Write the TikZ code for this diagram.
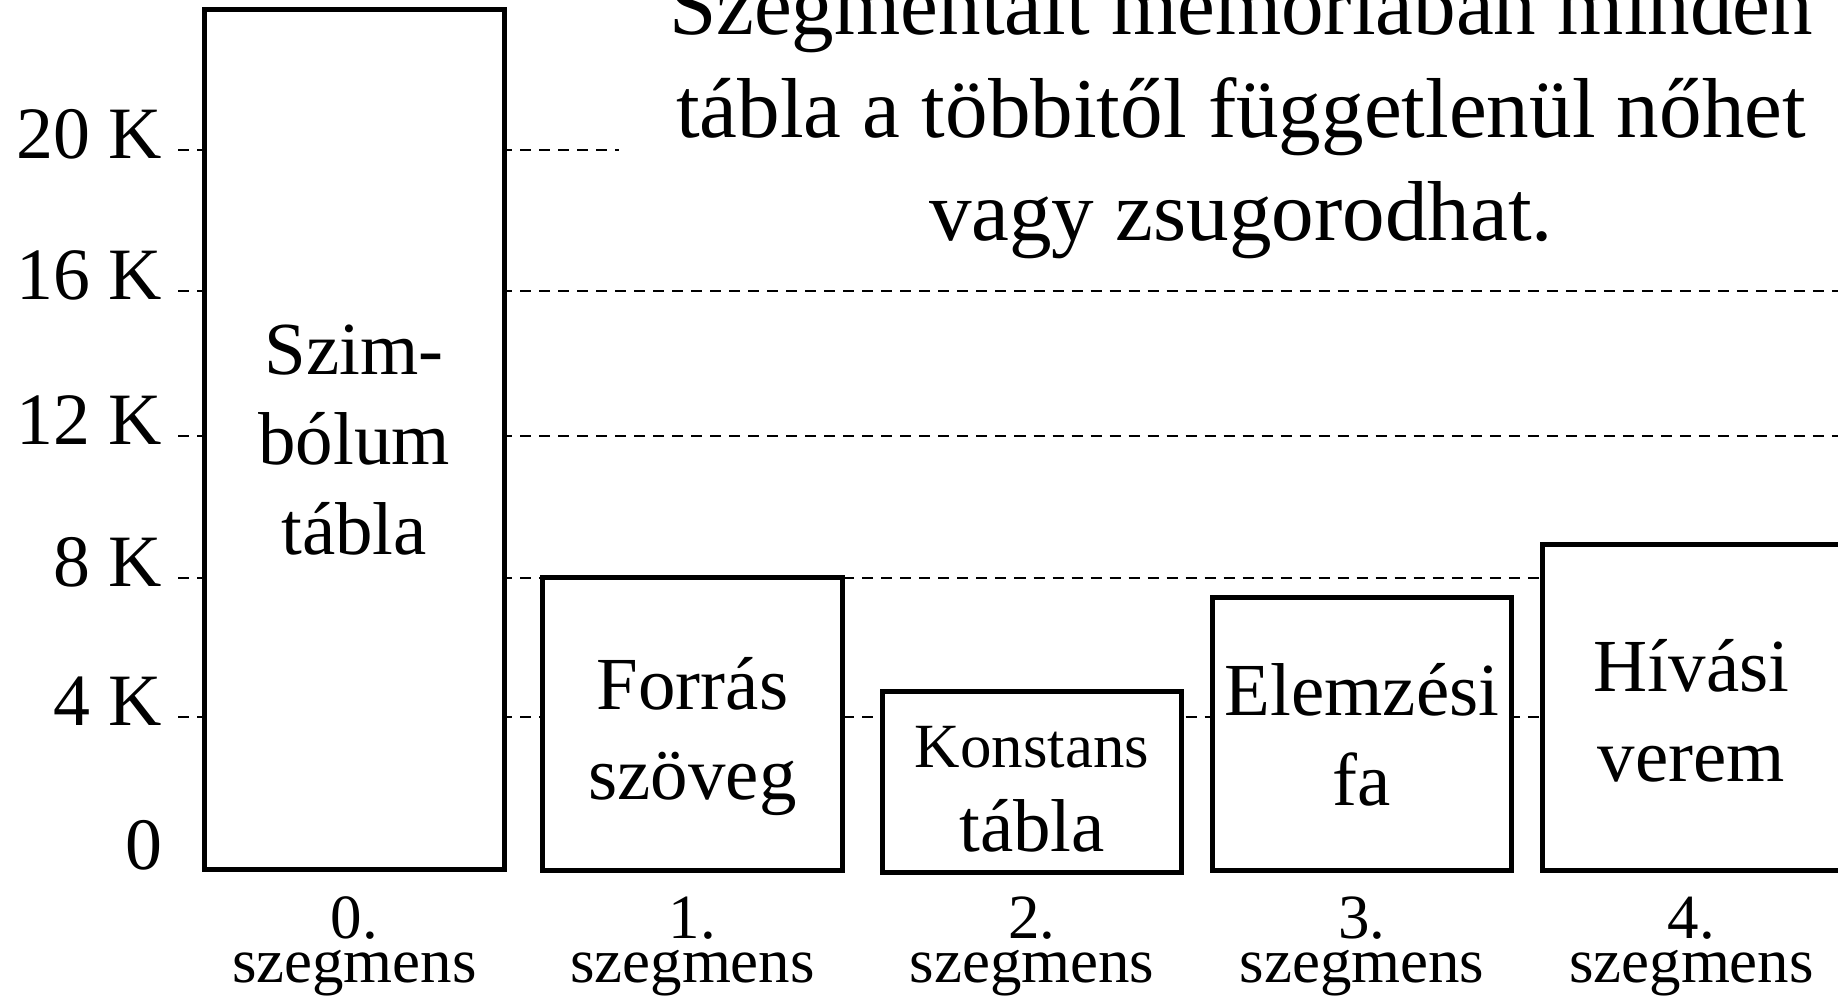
\documentclass[tikz,border=0pt]{standalone}
\usepackage{fontspec}
\setmainfont{Liberation Serif}
\usetikzlibrary{positioning}

\begin{document}
\begin{tikzpicture}[
  x=0.01cm, y=-0.01cm,
  seg/.style={rectangle, draw, line width=0.05cm, fill=white, inner sep=0pt},
  segtxt/.style={align=center, inner sep=0pt, font=\fontsize{21.3}{25.6}\selectfont},
  smalltxt/.style={align=center, inner sep=0pt, font=\fontsize{17.9}{25}\selectfont},
  segno/.style={align=center, inner sep=0pt, anchor=north, font=\fontsize{17.9}{12.5}\selectfont},
  ylbl/.style={anchor=base east, inner sep=0pt, font=\fontsize{21}{25}\selectfont},
  levelline/.style={dash pattern=on 0.11cm off 0.08cm, line width=0.025cm},
  headtxt/.style={align=center, inner sep=0pt, font=\fontsize{24.2}{29.2}\selectfont}
]
\useasboundingbox (0,0) rectangle (1838,1001);
\clip (0,0) rectangle (1838,1001);

% dashed size levels, drawn first so the segments cover them
\foreach \y/\xe in {150/619, 291/1838, 436/1838, 578/1543, 717/1543}
  \draw[levelline] (178,\y) -- (\xe,\y);

% axis labels
\foreach \k/\y in {20/150, 16/291, 12/436, 8/578, 4/717}
  \node[ylbl] (k\k) at (163,\y+9) {\k\ K};
\node[ylbl] (k0) at (163,870) {0};

% the five segments
\node[seg, minimum width=2.99cm, minimum height=8.59cm] (s0) at (354.5,439.5) {};
\node[seg, minimum width=2.99cm, minimum height=2.92cm] (s1) at (692.5,724) {};
\node[seg, minimum width=2.98cm, minimum height=1.80cm] (s2) at (1032,782) {};
\node[seg, minimum width=2.98cm, minimum height=2.72cm] (s3) at (1362,734) {};
\node[seg, minimum width=2.97cm, minimum height=3.25cm] (s4) at (1691.5,707.5) {};

\node[segtxt] (t0) at (354,440) {Szim-\\bólum\\tábla};
\node[segtxt] (t1) at (692.5,737) {Forrás\\szöveg};
\node[smalltxt] (t2) at (1032,747) {Konstans};
\node[segtxt, anchor=base] (t2b) at (1032,852) {tábla};
\node[segtxt] (t3) at (1362,735) {Elemzési\\fa};
\node[segtxt] (t4) at (1691.5,711) {Hívási\\verem};

\node[segno, below=0.24cm of s0] (n0) {0.\\szegmens};
\node[segno, below=0.24cm of s1] (n1) {1.\\szegmens};
\node[segno, below=0.22cm of s2] (n2) {2.\\szegmens};
\node[segno, below=0.24cm of s3] (n3) {3.\\szegmens};
\node[segno, below=0.24cm of s4] (n4) {4.\\szegmens};

\node[headtxt] (head) at (1241,117)
  {Szegmentált memóriában minden\\tábla a többitől függetlenül nőhet\\vagy zsugorodhat.};

\end{tikzpicture}
\end{document}
